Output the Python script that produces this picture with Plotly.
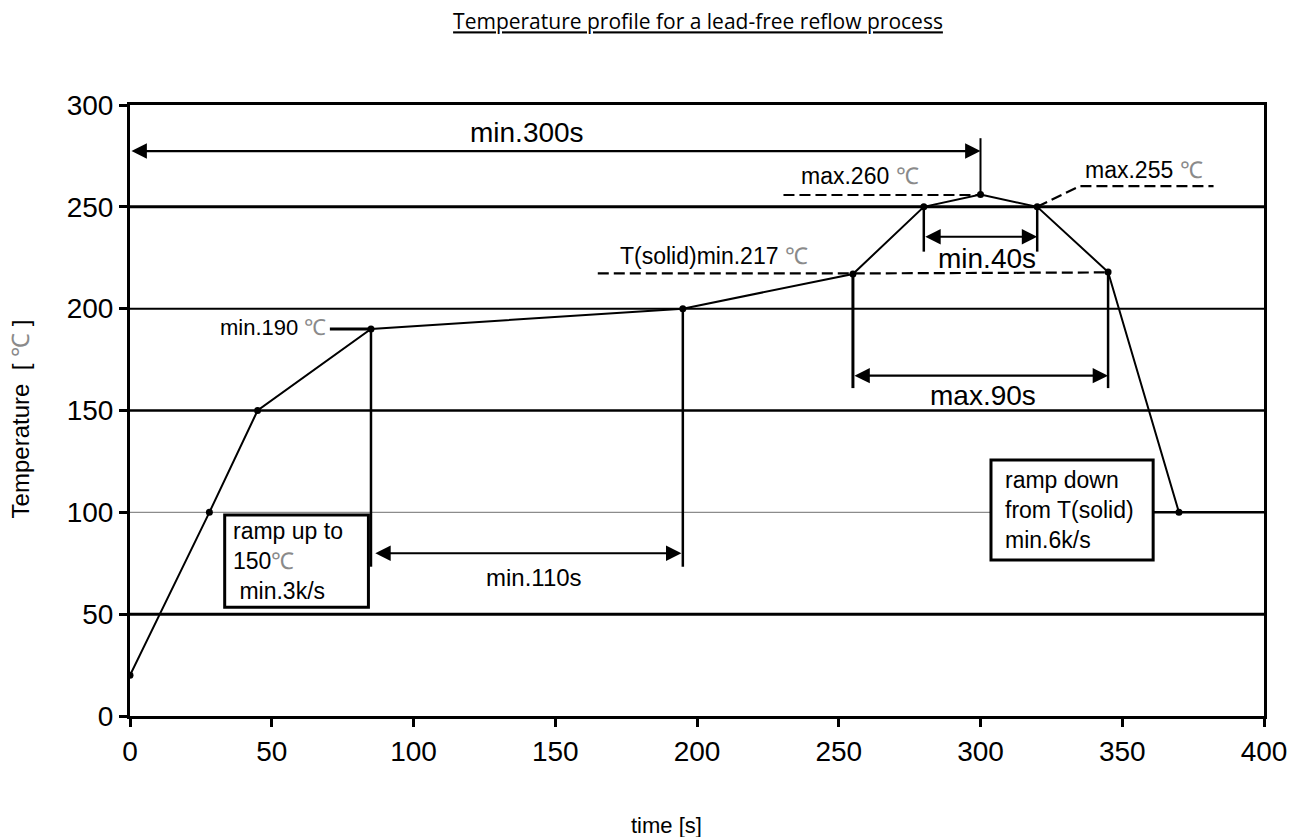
import plotly.graph_objects as go

# ---- data ----
time_s = [0, 28, 45, 85, 195, 255, 280, 300, 320, 345, 370]
temp_c = [20, 100, 150, 190, 200, 217, 250, 256, 250, 218, 100]
x_tick_vals = [0, 50, 100, 150, 200, 250, 300, 350, 400]
y_tick_vals = [0, 50, 100, 150, 200, 250, 300]
grid_levels = [50, 150, 200, 250]
grid_widths = [3, 2.5, 2, 3]
hold_temp = 100
hold_time = [361, 400]

# dimension markers (time intervals)
dim_300s = [0, 300]
dim_110s = [86, 194.5]
dim_90s = [255, 345]
dim_40s = [280, 320]

FONT = "Liberation Sans, Arial, sans-serif"
DEG = '<span style="color:#8a8a8a">℃</span>'

fig = go.Figure()

# gridlines
for lvl, w in zip(grid_levels, grid_widths):
    fig.add_shape(type="line", xref="x", yref="y", x0=0, x1=400, y0=lvl, y1=lvl,
                  line=dict(color="black", width=w), layer="below")
fig.add_shape(type="line", xref="x", yref="y", x0=0, x1=400, y0=100, y1=100,
              line=dict(color="#8c8c8c", width=1.3), layer="below")

# vertical reference lines
def vline(x, y0, y1, w=2.5):
    fig.add_trace(go.Scatter(x=[x, x], y=[y0, y1], mode="lines",
                             line=dict(color="black", width=w), hoverinfo="skip",
                             showlegend=False))

vline(85, 190, 73.3)
vline(195, 200, 73.3)
vline(255, 217, 161, 3)
vline(345, 218, 161, 2.5)
vline(280, 250, 228, 2.5)
vline(320, 250, 228, 2.5)
vline(300, 256, 283.7, 2)

# min.190 marker line
fig.add_trace(go.Scatter(x=[70.5, 85], y=[190, 190], mode="lines",
                         line=dict(color="black", width=3), showlegend=False, hoverinfo="skip"))

# dashed limit lines
dash = dict(color="black", width=2.2, dash="11px,5px")
fig.add_trace(go.Scatter(x=[230.5, 300], y=[255.8, 255.8], mode="lines", line=dash,
                         showlegend=False, hoverinfo="skip"))
fig.add_trace(go.Scatter(x=[320, 335.1, 382.2], y=[250, 260.2, 260.2], mode="lines",
                         line=dash, showlegend=False, hoverinfo="skip"))
fig.add_trace(go.Scatter(x=[165, 255, 345], y=[217.3, 217.3, 217.8], mode="lines", line=dash,
                         showlegend=False, hoverinfo="skip"))

# hold line at 100
fig.add_trace(go.Scatter(x=hold_time, y=[hold_temp, hold_temp], mode="lines",
                         line=dict(color="black", width=2.5), showlegend=False, hoverinfo="skip"))

# main profile
fig.add_trace(go.Scatter(x=time_s, y=temp_c, mode="lines+markers",
                         line=dict(color="black", width=2),
                         marker=dict(color="black", size=7),
                         showlegend=False))

# boxes
fig.add_shape(type="rect", xref="x", yref="y", x0=33.4, x1=84.1, y0=53.4, y1=98.7,
              line=dict(color="black", width=3), fillcolor="white", layer="above")
fig.add_shape(type="rect", xref="x", yref="y", x0=303.7, x1=360.9, y0=76.6, y1=125.7,
              line=dict(color="black", width=3), fillcolor="white", layer="above")

ann = []

def arrow(x0, x1, y):
    ann.append(dict(x=x1, y=y, ax=x0, ay=y, xref="x", yref="y", axref="x", ayref="y",
                    text="", showarrow=True, arrowhead=2, arrowside="end+start",
                    arrowsize=1.4, arrowwidth=2.2, arrowcolor="black", standoff=0, startstandoff=0))

arrow(dim_300s[0], dim_300s[1], 277.4)
arrow(dim_110s[0], dim_110s[1], 79.9)
arrow(dim_90s[0], dim_90s[1], 167.1)
arrow(dim_40s[0], dim_40s[1], 235.3)

def label(x, y, text, size, xanchor="center", align="center"):
    ann.append(dict(x=x, y=y, xref="x", yref="y", text=text, showarrow=False,
                    xanchor=xanchor, yanchor="middle", align=align,
                    font=dict(family=FONT, size=size, color="black")))

label(139.9, 286.7, "min.300s", 28)
label(257.6, 265.1, "max.260 " + DEG, 23)
label(357.5, 268, "max.255 " + DEG, 23)
label(206, 225.8, "T(solid)min.217 " + DEG, 23)
label(302.3, 224.8, "min.40s", 28)
label(300.9, 157.6, "max.90s", 28)
label(69.8, 191, "min.190 " + DEG, 22, xanchor="right")
label(142.4, 68.2, "min.110s", 24)
label(35.6, 76.2, "ramp up to<br>150" + DEG + "<br> min.3k/s", 23, xanchor="left", align="left")
label(307.8, 101.2, "ramp down<br>from T(solid)<br>min.6k/s", 23, xanchor="left", align="left")

# axis titles
ann.append(dict(x=0.4728, y=-0.1784, xref="paper", yref="paper", text="time [s]",
                showarrow=False, xanchor="center", yanchor="middle",
                font=dict(family=FONT, size=22, color="black")))
ann.append(dict(x=-0.0967, y=0.486, xref="paper", yref="paper",
                text="Temperature  [ " + DEG + " ]", textangle=-90,
                showarrow=False, xanchor="center", yanchor="middle",
                font=dict(family=FONT, size=24, color="black")))

W, H = 1299, 837
fig.update_layout(
    width=W, height=H, autosize=False,
    margin=dict(l=130, r=W - 1270, t=105, b=H - 716),
    paper_bgcolor="white", plot_bgcolor="white",
    showlegend=False,
    annotations=ann,
    title=dict(text="<u>Temperature profile for a lead-free reflow process</u>",
               x=698 / W, xref="container", xanchor="center",
               y=1 - 22 / H, yref="container", yanchor="middle",
               font=dict(family="Open Sans, sans-serif", size=21, color="black")),
)
fig.update_xaxes(range=[0, 400], tickvals=x_tick_vals, ticks="outside", ticklen=8,
                 tickwidth=3, tickcolor="black", showline=True, linewidth=3,
                 linecolor="black", mirror=True, showgrid=False, zeroline=False,
                 tickfont=dict(family=FONT, size=28, color="black"))
fig.update_yaxes(range=[0, 300], tickvals=y_tick_vals, ticks="outside", ticklen=8,
                 tickwidth=3, tickcolor="black", showline=True, linewidth=3,
                 linecolor="black", mirror=True, showgrid=False, zeroline=False,
                 tickfont=dict(family=FONT, size=28, color="black"))

# remove the browser's default 8px body margin so the figure fills the window exactly
fig.write_html("out.html", config={"displayModeBar": False},
               post_script="document.body.style.margin='0';document.body.style.overflow='hidden';")
